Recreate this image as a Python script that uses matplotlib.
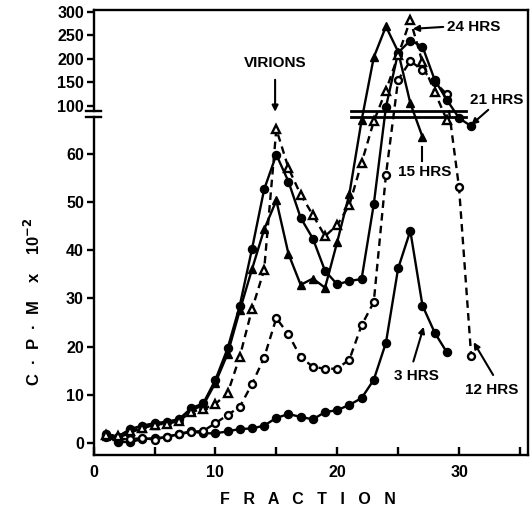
import numpy as np
import matplotlib
matplotlib.use("Agg")
import matplotlib.pyplot as plt

# fractions 1..31
frac = np.arange(1, 32)

# counts per fraction (C.P.M x 10^-2)
hrs3 = [1.5, 0.2, 0.2, 0.8, 1.0, 1.2, 1.9, 2.4, 2.0, 2.0, 2.4, 2.9, 3.0, 3.6, 5.2,
        6.0, 5.4, 4.9, 6.4, 6.8, 7.9, 9.3, 13.1, 20.8, 36.2, 44.0, 28.5, 22.9, 18.8]
hrs12 = [1.2, 0.8, 0.8, 1.0, 0.7, 1.3, 1.8, 2.3, 2.5, 4.1, 5.8, 7.5, 12.2, 17.7, 25.9,
         22.5, 17.8, 15.8, 15.4, 15.4, 17.3, 24.4, 29.2, 55.6, 155, 195, 176, 150, 124,
         53, 18]
hrs15 = [1.5, 1.0, 2.2, 3.0, 3.8, 4.2, 5.0, 6.8, 7.8, 12.5, 18.5, 27.5, 36.0, 44.3, 50.3,
         39.2, 32.8, 34.1, 32.2, 41.7, 51.7, 66.9, 203, 269, 215, 105, 63.5]
hrs21 = [1.9, 1.3, 2.9, 3.6, 4.1, 4.4, 4.9, 7.2, 8.2, 13.1, 19.6, 28.5, 40.2, 52.6, 59.8,
         54.2, 46.7, 42.4, 35.7, 32.9, 33.6, 34.0, 49.5, 95, 213, 239, 226, 155, 112,
         67.4, 65.7]
hrs24 = [1.7, 1.5, 2.5, 3.2, 3.8, 4.0, 4.5, 6.5, 7.0, 8.1, 10.3, 17.9, 27.7, 35.9, 65.1,
         57.0, 51.5, 47.3, 42.9, 45.2, 49.4, 58.1, 66.7, 132, 207, 283, 192, 129, 67]

lower_ticks = [0, 10, 20, 30, 40, 50, 60]
upper_ticks = [100, 150, 200, 250, 300]


# broken y axis: 0-68 linear, 68-100 squeezed, 100-300 compressed
def fwd(v):
    v = np.asarray(v, dtype=float)
    return np.where(v <= 68, v, np.where(v < 100, 68 + (v - 68) / 16.0,
                                         70 + (v - 100) * 0.097))


def inv(p):
    p = np.asarray(p, dtype=float)
    return np.where(p <= 68, p, np.where(p < 70, 68 + (p - 68) * 16.0,
                                         100 + (p - 70) / 0.097))


plt.rcParams['font.family'] = ['Liberation Sans', 'DejaVu Sans']
plt.rcParams['font.weight'] = 'bold'

fig = plt.figure(figsize=(5.31, 5.18), dpi=100)
ax = fig.add_axes([0.1763, 0.1216, 0.8189, 0.859])
ax.set_yscale('function', functions=(fwd, inv))

lw = 1.7
dash = (0, (3.2, 2.2))
ax.plot(frac[:len(hrs3)], hrs3, '-', color='k', lw=lw, marker='o', ms=5.8)
ax.plot(frac[:len(hrs12)], hrs12, color='k', lw=lw, ls=dash, marker='o', ms=5,
        mfc='white', mew=1.7)
ax.plot(frac[:len(hrs15)], hrs15, '-', color='k', lw=lw, marker='^', ms=6.3)
ax.plot(frac[:len(hrs21)], hrs21, '-', color='k', lw=lw, marker='o', ms=5.8)
ax.plot(frac[:len(hrs24)], hrs24, color='k', lw=lw, ls=dash, marker='^', ms=6.3,
        mfc='white', mew=1.7)

ax.set_xlim(0, 35.7)
ax.set_ylim(-2.5, float(inv(89.8)))

ax.set_xticks([0, 5, 10, 15, 20, 25, 30, 35])
ax.set_xticklabels(['0', '', '10', '', '20', '', '30', ''])
ax.tick_params(axis='x', direction='in', length=6, width=1.7, pad=7, labelsize=11.5)
ax.set_yticks(lower_ticks + upper_ticks)
ax.set_yticklabels([str(t) for t in lower_ticks + upper_ticks])
ax.tick_params(axis='y', direction='out', length=5, width=1.7, pad=2, labelsize=11.5)
ax.minorticks_off()

for s in ['top', 'right', 'bottom']:
    ax.spines[s].set_linewidth(1.7)
ax.spines['left'].set_visible(False)

# broken left spine with break marks
yb_hi = 0.7738
yb_lo = 0.760
ax.plot([0, 0], [yb_hi, 1], color='k', lw=1.7, transform=ax.transAxes, clip_on=False)
ax.plot([0, 0], [0, yb_lo], color='k', lw=1.7, transform=ax.transAxes, clip_on=False)
for yb in (yb_hi, yb_lo):
    ax.plot([-0.017, 0.017], [yb, yb], color='k', lw=1.7, transform=ax.transAxes,
            clip_on=False)

# break lines across the peaks
bt = ax.get_xaxis_transform()
for yb in (yb_hi, yb_lo):
    ax.plot([21.1, 30.6], [yb, yb], color='k', lw=2.0, transform=bt)

arrow = dict(arrowstyle='-|>', color='k', lw=1.5, mutation_scale=9,
             shrinkA=0, shrinkB=0)
fs = 11
ax.text(14.9, 191, 'VIRIONS', ha='center', va='center', fontsize=fs)
ax.annotate('', xy=(14.9, 79), xytext=(14.9, 155), arrowprops=arrow)

ax.text(29.0, 268, '24 HRS', ha='left', va='center', fontsize=fs)
ax.annotate('', xy=(26.2, 264), xytext=(28.7, 268), arrowprops=arrow)

ax.text(30.9, 112, '21 HRS', ha='left', va='center', fontsize=fs)
ax.annotate('', xy=(31.0, 66), xytext=(32.4, 85.6), arrowprops=arrow)

ax.text(25.0, 56.3, '15 HRS', ha='left', va='center', fontsize=fs)
ax.plot([27.0, 27.0], [61.3, 58.4], color='k', lw=1.5)

ax.text(24.7, 13.8, '3 HRS', ha='left', va='center', fontsize=fs)
ax.annotate('', xy=(27.1, 24.1), xytext=(26.25, 16.9), arrowprops=arrow)

ax.text(30.5, 11.0, '12 HRS', ha='left', va='center', fontsize=fs)
ax.annotate('', xy=(31.2, 20.9), xytext=(32.8, 14.1), arrowprops=arrow,
            annotation_clip=False)

fig.text(0.58, 0.035, 'F   R   A   C   T   I   O   N', ha='center', va='center',
         fontsize=11.5)
fig.text(0.062, 0.418, 'C  ·  P  ·  M    x    10$^{-2}$', ha='center', va='center',
         rotation=90, fontsize=12)

fig.savefig('out.png', dpi=100)
